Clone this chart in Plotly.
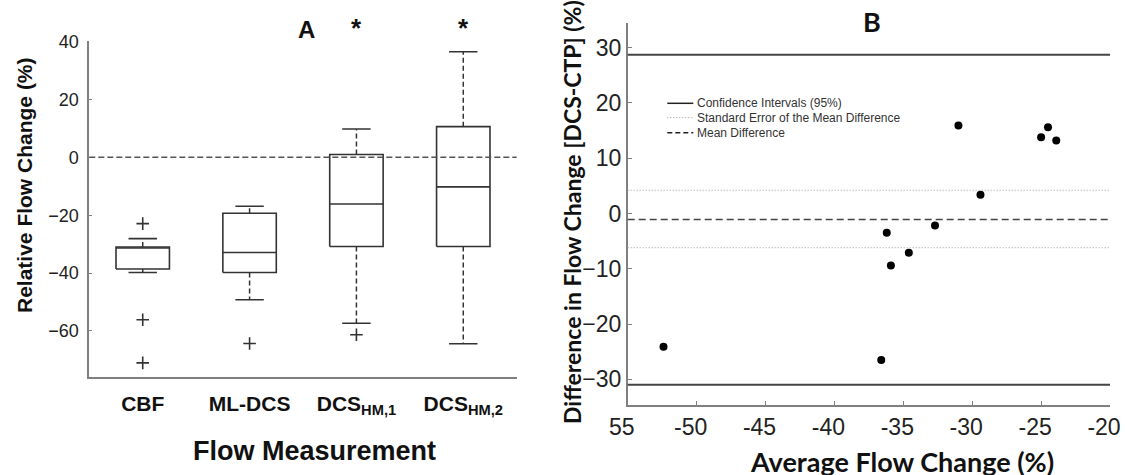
import plotly.graph_objects as go

# ---------------- Panel A data (box plot summary) ----------------
categories = ["CBF", "ML-DCS", "DCS<sub>HM,1</sub>", "DCS<sub>HM,2</sub>"]
q1 = [-38.6, -39.8, -30.8, -30.8]
median = [-31.3, -32.9, -16.1, -10.2]
q3 = [-31.0, -19.3, 1.0, 10.6]
whisker_low = [-39.8, -49.2, -57.3, -64.4]
whisker_high = [-28.1, -16.9, 9.8, 36.5]
outlier_cat = [0, 0, 0, 1, 2]
outlier_val = [-22.9, -56.1, -71.0, -64.3, -61.3]
significant = [False, False, True, True]
a_yticks = [-60, -40, -20, 0, 20, 40]

# ---------------- Panel B data (Bland-Altman) ----------------
avg_change = [-52.4, -36.6, -36.2, -35.9, -34.6, -32.7, -31.0, -29.4, -25.0, -24.5, -23.9]
diff_change = [-24.1, -26.5, -3.5, -9.4, -7.1, -2.2, 15.9, 3.4, 13.8, 15.6, 13.2]
ci_upper = 28.7
ci_lower = -31.0
mean_diff = -1.1
se_upper = 4.2
se_lower = -6.2
b_xticks = [-55, -50, -45, -40, -35, -30, -25, -20]
b_xticklabels = ["55", "-50", "-45", "-40", "-35", "-30", "-25", "-20"]
b_yticks = [-30, -20, -10, 0, 10, 20, 30]
legend_labels = ["Confidence Intervals (95%)", "Standard Error of the Mean Difference", "Mean Difference"]

W, H = 1125, 475
ARIAL = "Liberation Sans, Arial, sans-serif"
CAL = "Lato, Carlito, Calibri, sans-serif"
DARK = "#333333"
AX = "#808080"

fig = go.Figure()

# ---- Panel A boxes ----
hw, cw = 0.25, 0.133
bx, by, wx, wy, cx, cy = [], [], [], [], [], []
for i in range(len(categories)):
    p = i + 1
    bx += [p - hw, p + hw, p + hw, p - hw, p - hw, None, p - hw, p + hw, None]
    by += [q1[i], q1[i], q3[i], q3[i], q1[i], None, median[i], median[i], None]
    wx += [p, p, None, p, p, None]
    wy += [q3[i], whisker_high[i], None, q1[i], whisker_low[i], None]
    cx += [p - cw, p + cw, None, p - cw, p + cw, None]
    cy += [whisker_high[i], whisker_high[i], None, whisker_low[i], whisker_low[i], None]

fig.add_trace(go.Scatter(x=wx, y=wy, mode="lines", line=dict(color=DARK, width=1.5, dash="5px,3px"),
                         showlegend=False, xaxis="x", yaxis="y"))
fig.add_trace(go.Scatter(x=cx, y=cy, mode="lines", line=dict(color=DARK, width=1.6),
                         showlegend=False, xaxis="x", yaxis="y"))
fig.add_trace(go.Scatter(x=bx, y=by, mode="lines", line=dict(color=DARK, width=1.6),
                         showlegend=False, xaxis="x", yaxis="y"))
fig.add_trace(go.Scatter(x=[c + 1 for c in outlier_cat], y=outlier_val, mode="markers",
                         marker=dict(symbol="cross-thin", size=9, line=dict(color=DARK, width=1.6)),
                         showlegend=False, xaxis="x", yaxis="y"))

# zero reference line
fig.add_shape(type="line", xref="x domain", yref="y", x0=0, x1=1, y0=0, y1=0,
              line=dict(color="#555555", width=1.5, dash="6px,3px"))

# ---- Panel B ----
fig.add_shape(type="line", xref="x2 domain", yref="y2", x0=0, x1=1, y0=ci_upper, y1=ci_upper,
              line=dict(color="#444444", width=2))
fig.add_shape(type="line", xref="x2 domain", yref="y2", x0=0, x1=1, y0=ci_lower, y1=ci_lower,
              line=dict(color="#444444", width=2))
for v in (se_upper, se_lower):
    fig.add_shape(type="line", xref="x2 domain", yref="y2", x0=0, x1=1, y0=v, y1=v,
                  line=dict(color="#999999", width=1, dash="1px,2px"))
fig.add_shape(type="line", xref="x2 domain", yref="y2", x0=0, x1=1, y0=mean_diff, y1=mean_diff,
              line=dict(color="#444444", width=1.5, dash="7px,4px"))

fig.add_trace(go.Scatter(x=avg_change, y=diff_change, mode="markers",
                         marker=dict(color="black", size=8),
                         showlegend=False, xaxis="x2", yaxis="y2"))

# ---- Axes ----
fig.update_layout(
    template="none",
    width=W, height=H, margin=dict(l=0, r=0, t=0, b=0, autoexpand=False),
    paper_bgcolor="white", plot_bgcolor="white",
    xaxis=dict(domain=[89.3 / W, 516.7 / W], range=[0.5, 4.5], anchor="y", automargin=False,
               tickvals=[1, 2, 3, 4], ticktext=categories, ticks="",
               tickfont=dict(family=ARIAL, size=21, color="#111111", weight="bold"),
               ticklabelstandoff=6,
               showline=True, linecolor=AX, linewidth=2, showgrid=False, zeroline=False),
    yaxis=dict(domain=[1 - 377.3 / H, 1 - 41.0 / H], range=[-76, 40.2], anchor="x", automargin=False,
               tickvals=a_yticks, ticks="inside", ticklen=3, tickcolor=AX,
               tickfont=dict(family=ARIAL, size=18, color="#222222"), ticklabelstandoff=5,
               showline=True, linecolor=AX, linewidth=2, showgrid=False, zeroline=False),
    xaxis2=dict(domain=[627.7 / W, 1110 / W], range=[-55, -20], anchor="y2", automargin=False,
                tickvals=b_xticks, ticktext=b_xticklabels, ticks="inside", ticklen=5, tickcolor=AX,
                tickfont=dict(family=ARIAL, size=23, color="#222222"), ticklabeloverflow="allow",
                ticklabelshift=-6,
                showline=True, linecolor=AX, linewidth=1.5, showgrid=False, zeroline=False),
    yaxis2=dict(domain=[1 - 405.3 / H, 1 - 22.7 / H], range=[-34.7, 34.5], anchor="x2", automargin=False,
                tickvals=b_yticks, ticks="inside", ticklen=5, tickcolor=AX,
                tickfont=dict(family=ARIAL, size=23, color="#222222"),
                showline=True, linecolor=AX, linewidth=1.5, showgrid=False, zeroline=False),
)

ann = []
C = dict(xanchor="center", yanchor="middle", showarrow=False)
ann.append(dict(text="<b>A</b>", x=306 / W, y=1 - 30 / H, xref="paper", yref="paper",
                font=dict(family=ARIAL, size=24, color="#111111"), **C))
for i, s in enumerate(significant):
    if s:
        ann.append(dict(text="<b>*</b>", x=i + 1, y=1 - 28 / H, xref="x", yref="paper",
                        font=dict(family=ARIAL, size=26, color="#111111"), **C))
ann.append(dict(text="<b>Flow Measurement</b>", x=314.7 / W, y=1 - 451 / H, xref="paper", yref="paper",
                font=dict(family=ARIAL, size=27, color="#111111"), **C))
ann.append(dict(text="<b>Relative Flow Change (%)</b>", x=24 / W, y=1 - 185 / H, xref="paper", yref="paper",
                textangle=-90, font=dict(family=ARIAL, size=21, color="#111111"), **C))
ann.append(dict(text="<b>B</b>", x=871.7 / W, y=1 - 21 / H, xref="paper", yref="paper",
                font=dict(family=CAL, size=27, color="#111111"), **C))
ann.append(dict(text="<b>Average Flow Change (%)</b>", x=901.7 / W, y=1 - 461 / H, xref="paper", yref="paper",
                font=dict(family=CAL, size=27, color="#111111"), **C))
ann.append(dict(text="<b>Difference in Flow Change [DCS-CTP] (%)</b>", x=572 / W, y=1 - 212 / H,
                xref="paper", yref="paper", textangle=-90,
                font=dict(family=CAL, size=23, color="#111111"), **C))

# Manual legend for panel B
leg_rows = [103.3, 117.6, 132.7]
leg_styles = [dict(color="#222222", width=1.5),
              dict(color="#999999", width=1, dash="1px,2px"),
              dict(color="#222222", width=1.5, dash="5px,3px")]
for lbl, ry, st in zip(legend_labels, leg_rows, leg_styles):
    fig.add_shape(type="line", xref="paper", yref="paper", x0=667.3 / W, x1=693.3 / W,
                  y0=1 - ry / H, y1=1 - ry / H, line=st)
    ann.append(dict(text=lbl, x=694.5 / W, y=1 - ry / H, xref="paper", yref="paper",
                    xanchor="left", yanchor="middle", showarrow=False,
                    font=dict(family=ARIAL, size=12, color="#333333")))

fig.update_layout(annotations=ann)
fig.write_html("out.html", config={"displayModeBar": False},
               post_script="document.body.style.margin='0px';")
